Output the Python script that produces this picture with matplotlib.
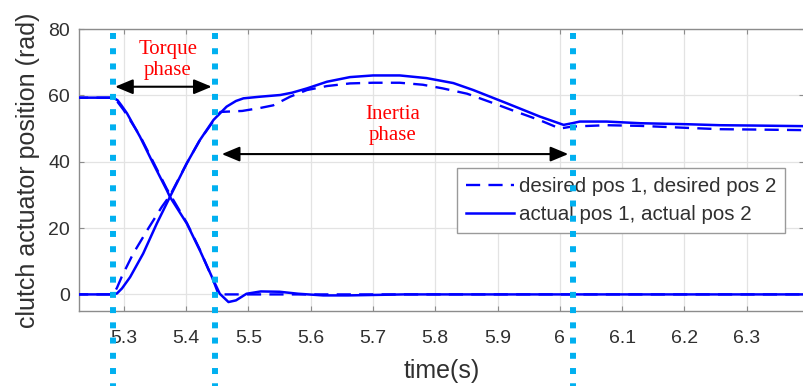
import numpy as np
import matplotlib.pyplot as plt
from matplotlib import transforms

# actual pos 1 (falls in torque phase)
t_act1 = [5.22, 5.283, 5.290, 5.296, 5.305, 5.326, 5.347, 5.369, 5.374, 5.401, 5.422,
          5.444, 5.454, 5.468, 5.480, 5.497, 5.520, 5.550, 5.580, 5.620, 5.660, 5.750, 6.40]
pos_act1 = [59.3, 59.3, 58.5, 57.0, 54.6, 47.5, 39.5, 31.4, 29.4, 21.4, 13.3,
            4.2, 0.2, -2.3, -1.8, 0.2, 0.9, 0.8, 0.2, -0.3, -0.3, 0.0, 0.0]

# desired pos 1
t_des1 = [5.22, 5.283, 5.290, 5.300, 5.326, 5.347, 5.369, 5.401, 5.422, 5.444, 5.452, 6.40]
pos_des1 = [59.3, 59.3, 58.0, 55.5, 47.8, 40.0, 31.8, 21.6, 13.5, 4.0, 0.0, 0.0]

# actual pos 2 (rises in torque phase)
t_act2 = [5.22, 5.283, 5.289, 5.297, 5.310, 5.331, 5.353, 5.374, 5.401, 5.422, 5.444,
          5.465, 5.480, 5.492, 5.519, 5.551, 5.570, 5.594, 5.626, 5.663, 5.700, 5.743,
          5.786, 5.829, 5.861, 5.915, 5.968, 6.006, 6.020, 6.032, 6.075, 6.129, 6.204,
          6.257, 6.310, 6.400]
pos_act2 = [0.0, 0.0, 0.3, 1.8, 5.2, 12.3, 21.4, 29.4, 39.5, 46.5, 52.6,
            56.6, 58.3, 59.1, 59.6, 60.1, 60.8, 62.1, 64.1, 65.5, 66.0, 66.0,
            65.2, 63.7, 61.6, 57.6, 53.6, 51.1, 51.6, 52.1, 52.1, 51.6, 51.3,
            51.0, 50.9, 50.7]

# desired pos 2
t_des2 = [5.22, 5.283, 5.289, 5.297, 5.315, 5.339, 5.361, 5.374, 5.401, 5.422, 5.444,
          5.455, 5.490, 5.519, 5.540, 5.567, 5.594, 5.626, 5.663, 5.700, 5.743, 5.780,
          5.812, 5.851, 5.888, 5.928, 5.968, 6.000, 6.020, 6.075, 6.129, 6.204, 6.257,
          6.310, 6.400]
pos_des2 = [0.0, 0.0, 2.0, 5.5, 12.3, 19.8, 26.4, 29.8, 39.5, 46.5, 52.3,
            55.0, 55.3, 56.2, 57.0, 59.6, 61.6, 62.8, 63.6, 63.8, 63.8, 63.2,
            62.1, 60.5, 58.0, 55.2, 52.5, 50.0, 50.6, 51.0, 50.8, 50.2, 49.8,
            49.7, 49.5]

phase_bounds = [5.2827, 5.4459, 6.0209]
xticks = [5.3, 5.4, 5.5, 5.6, 5.7, 5.8, 5.9, 6.0, 6.1, 6.2, 6.3]
xtick_labels = ["5.3", "5.4", "5.5", "5.6", "5.7", "5.8", "5.9", "6", "6.1", "6.2", "6.3"]
yticks = [0, 20, 40, 60, 80]

plt.rcParams['font.family'] = ['Liberation Sans', 'DejaVu Sans']

fig = plt.figure(figsize=(8.04, 3.86), dpi=100)
ax = fig.add_axes([79 / 804, 1 - 311 / 386, 1 - 79 / 804, (311 - 29) / 386])

blue = '#0000FF'
ax.plot(t_des1, pos_des1, color=blue, lw=1.7, dashes=(6, 3.5), zorder=3)
ax.plot(t_des2, pos_des2, color=blue, lw=1.7, dashes=(6, 3.5), zorder=3,
        label='desired pos 1, desired pos 2')
ax.plot(t_act1, pos_act1, color=blue, lw=1.8, zorder=4)
ax.plot(t_act2, pos_act2, color=blue, lw=1.8, zorder=4,
        label='actual pos 1, actual pos 2')

ax.set_xlim(5.228, 6.392)
ax.set_ylim(-5, 80)
ax.set_xticks(xticks)
ax.set_xticklabels(xtick_labels)
ax.set_yticks(yticks)

ax.grid(True, color='#e3e3e3', lw=0.9)
ax.set_axisbelow(True)
for s in ax.spines.values():
    s.set_color('#8c8c8c')
    s.set_linewidth(1.0)
ax.tick_params(direction='in', length=3.6, color='#8c8c8c', top=True, right=True,
               labelsize=14, labelcolor='#303030')
ax.tick_params(axis='x', pad=14)
ax.tick_params(axis='y', pad=6.5)

ax.set_xlabel('time(s)', fontsize=18, color='#303030', labelpad=8)
ax.set_ylabel('clutch actuator position (rad)', fontsize=18, color='#303030', labelpad=6)

leg = ax.legend(loc='upper left', bbox_to_anchor=(457 / 804, 1 - 168 / 386),
                bbox_transform=fig.transFigure, fontsize=14.8, handlelength=2.3,
                handletextpad=0.25, borderaxespad=0, borderpad=0.45, labelspacing=0.42,
                fancybox=False, framealpha=1, edgecolor='#9a9a9a')
leg.get_frame().set_linewidth(1.0)
for txt in leg.get_texts():
    txt.set_color('#303030')

# phase boundaries
trans = transforms.blended_transform_factory(ax.transData, ax.transAxes)
for xv in phase_bounds:
    ax.plot([xv, xv], [0.986, -0.27], transform=trans, clip_on=False, color='#00B0F0',
            lw=4.3, linestyle=(0, (1, 1.55)), dash_capstyle='butt', zorder=6)

arrow = dict(arrowstyle='<|-|>,head_length=0.6,head_width=0.25', color='black',
             lw=1.5, mutation_scale=18, shrinkA=0, shrinkB=0)
ax.annotate('', xy=(5.2859, 62.6), xytext=(5.4411, 62.6), arrowprops=arrow, zorder=7)
ax.annotate('', xy=(5.4572, 42.3), xytext=(6.0136, 42.3), arrowprops=arrow, zorder=7)

ax.text(5.371, 70.7, 'Torque\nphase', color='red', fontsize=15, ha='center', va='center',
        family=['Liberation Serif', 'DejaVu Serif'], linespacing=1.1, zorder=7)
ax.text(5.732, 51.1, 'Inertia\nphase', color='red', fontsize=15, ha='center', va='center',
        family=['Liberation Serif', 'DejaVu Serif'], linespacing=1.1, zorder=7)

fig.savefig('out.png', dpi=100)
